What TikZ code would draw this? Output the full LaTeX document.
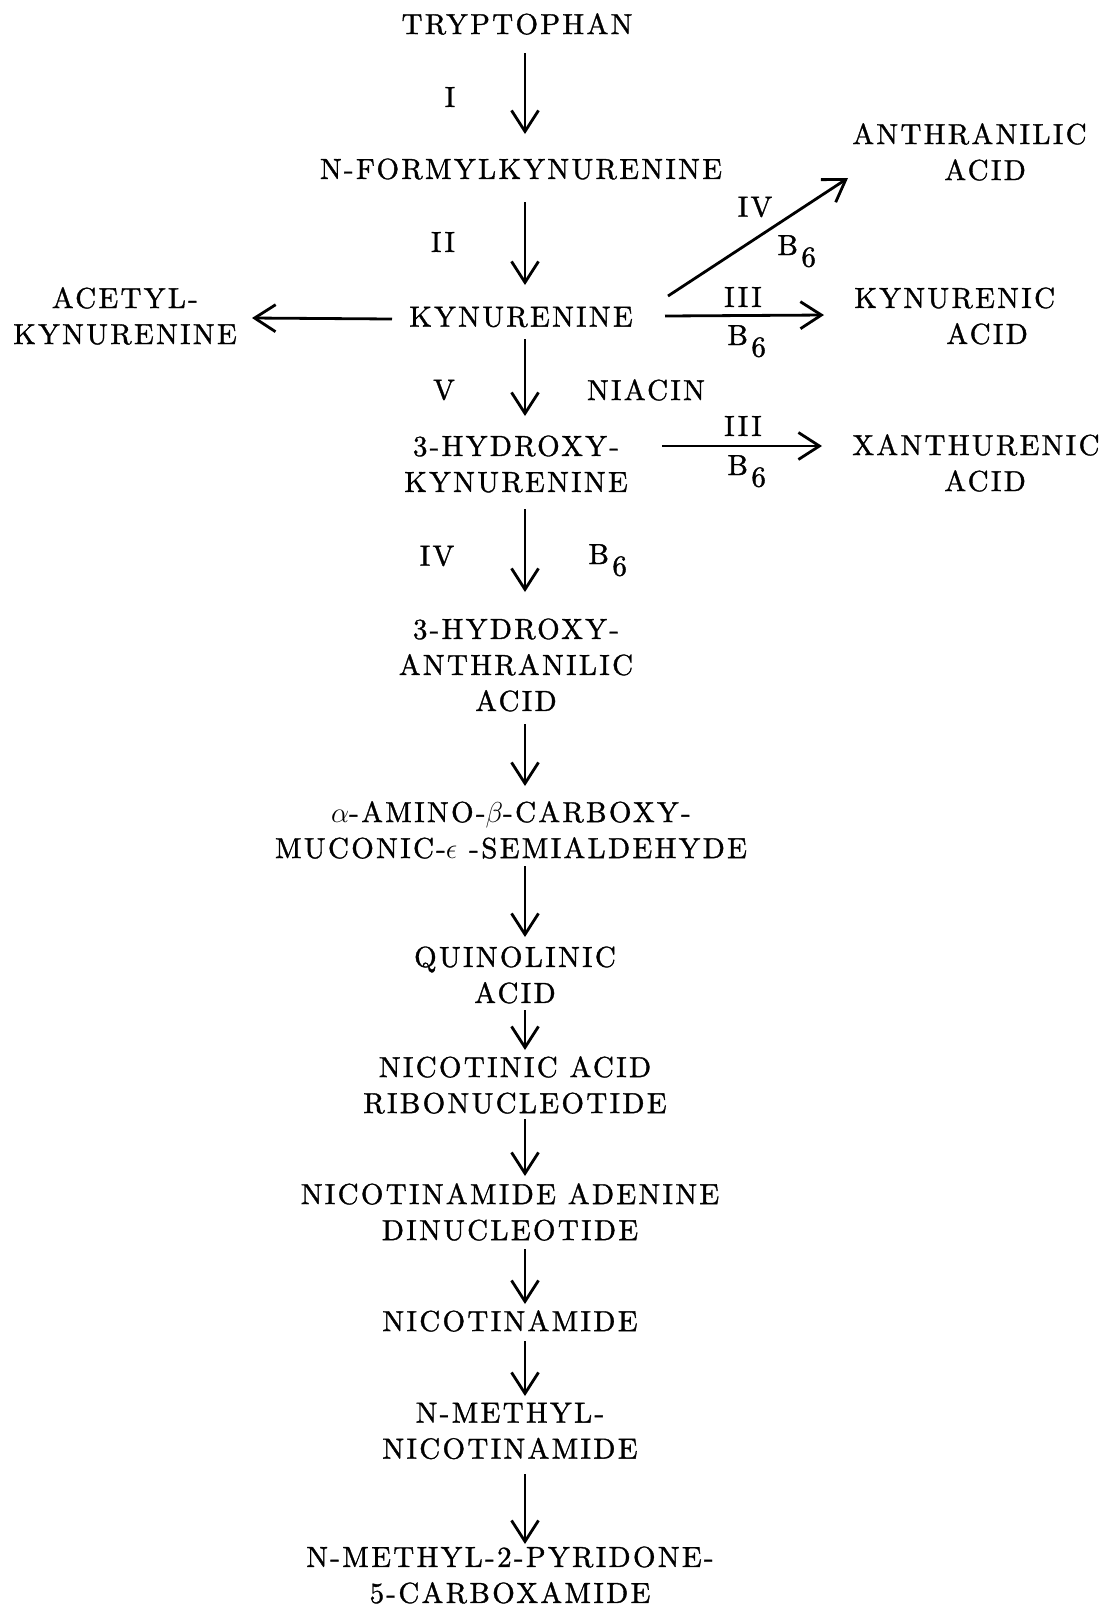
\documentclass[tikz,border=0pt]{standalone}
\usepackage{fontspec}
\setmainfont{lmroman10-regular.otf}[LetterSpace=8, FakeBold=1.2]
\usetikzlibrary{arrows.meta}
\newcommand\Bsix{B\hspace{0.12em}\raisebox{-0.4em}{6}}
\begin{document}
\begin{tikzpicture}[x=0.5pt,y=-0.5pt,
  txt/.style={inner sep=0pt, align=center, font=\fontsize{14.5}{18}\selectfont},
  sidetxt/.style={txt, align=left, anchor=west},
  bsix/.style={inner sep=0pt, anchor=base west, font=\fontsize{14.5}{18}\selectfont},
  arr/.style={line width=1.4pt, -{Straight Barb[length=10.5pt,width=13.5pt]}},
]
\useasboundingbox (0,0) rectangle (1105,1608);
\coordinate (col) at (525,0);
% main column
\node[txt] (tryp) at (517,24) {TRYPTOPHAN};
\node[txt] (nfk) at (521,169) {N-FORMYLKYNURENINE};
\node[txt] (kyn) at (521,317) {KYNURENINE};
\node[txt] (hk) at (516,464) {3-HYDROXY-\\KYNURENINE};
\node[txt] (haa) at (516,665) {3-HYDROXY-\\ANTHRANILIC\\ACID};
\node[txt] (amino) at (511,830) {$\alpha$-AMINO-$\beta$-CARBOXY-\\MUCONIC-$\epsilon$ -SEMIALDEHYDE};
\node[txt] (quin) at (515,975) {QUINOLINIC\\ACID};
\node[txt] (nar) at (515,1085) {NICOTINIC ACID\\RIBONUCLEOTIDE};
\node[txt] (nad) at (510,1212) {NICOTINAMIDE ADENINE\\DINUCLEOTIDE};
\node[txt] (nam) at (510,1321) {NICOTINAMIDE};
\node[txt] (nmn) at (510,1431) {N-METHYL-\\NICOTINAMIDE};
\node[txt] (pyr) at (510,1575) {N-METHYL-2-PYRIDONE-\\5-CARBOXAMIDE};
% side products
\node[txt] (acetyl) at (125,316) {ACETYL-\\KYNURENINE};
\node[sidetxt] (anth) at (852,152) {ANTHRANILIC\\\hspace*{46pt}ACID};
\node[sidetxt] (kynac) at (854,316) {KYNURENIC\\\hspace*{46pt}ACID};
\node[sidetxt] (xanac) at (852,463) {XANTHURENIC\\\hspace*{46pt}ACID};
% labels
\node[txt] (lI) at (450,97) {I};
\node[txt] (lII) at (443,242) {II};
\node[txt] (lV) at (444,390) {V};
\node[txt] (lniacin) at (646,390) {NIACIN};
\node[txt] (lIVb) at (437,556) {IV};
\node[bsix] (lBb) at (588,564) {\Bsix};
\node[txt] (lIVa) at (755,207) {IV};
\node[bsix] (lBa) at (777,255) {\Bsix};
\node[txt] (lIIIk) at (743,297) {III};
\node[bsix] (lBk) at (727,345) {\Bsix};
\node[txt] (lIIIx) at (743,426) {III};
\node[bsix] (lBx) at (727,475) {\Bsix};
% vertical arrows
\draw[arr, shorten <=14.5pt, shorten >=17.5pt] (tryp -| col) -- (nfk -| col);
\draw[arr, shorten <=16.5pt, shorten >=16pt] (nfk -| col) -- (kyn -| col);
\draw[arr, shorten <=11pt, shorten >=24pt] (kyn -| col) -- (hk -| col);
\draw[arr, shorten <=22.5pt, shorten >=36.5pt] (hk -| col) -- (haa -| col);
\draw[arr, shorten <=29.5pt, shorten >=22pt] (haa -| col) -- (amino -| col);
\draw[arr, shorten <=18pt, shorten >=19pt] (amino -| col) -- (quin -| col);
\draw[arr, shorten <=17.5pt, shorten >=17.5pt] (quin -| col) -- (nar -| col);
\draw[arr, shorten <=17pt, shorten >=18pt] (nar -| col) -- (nad -| col);
\draw[arr, shorten <=18.5pt, shorten >=8.5pt] (nad -| col) -- (nam -| col);
\draw[arr, shorten <=10pt, shorten >=17.5pt] (nam -| col) -- (nmn -| col);
\draw[arr, shorten <=21.5pt, shorten >=15.5pt] (nmn -| col) -- (pyr -| col);
% side arrows
\draw[arr] ([shift={(-129,2)}]kyn.center) -- ([shift={(127,2)}]acetyl.center);
\draw[arr] ([shift={(144,-1)}]kyn.center) -- ([shift={(-30,-1)}]kynac.west);
\draw[arr] ([shift={(147,-21)}]kyn.center) -- ([shift={(-4,26)}]anth.west);
\draw[arr] ([shift={(146,-18)}]hk.center) -- ([shift={(-30,-17)}]xanac.west);
\end{tikzpicture}
\end{document}
